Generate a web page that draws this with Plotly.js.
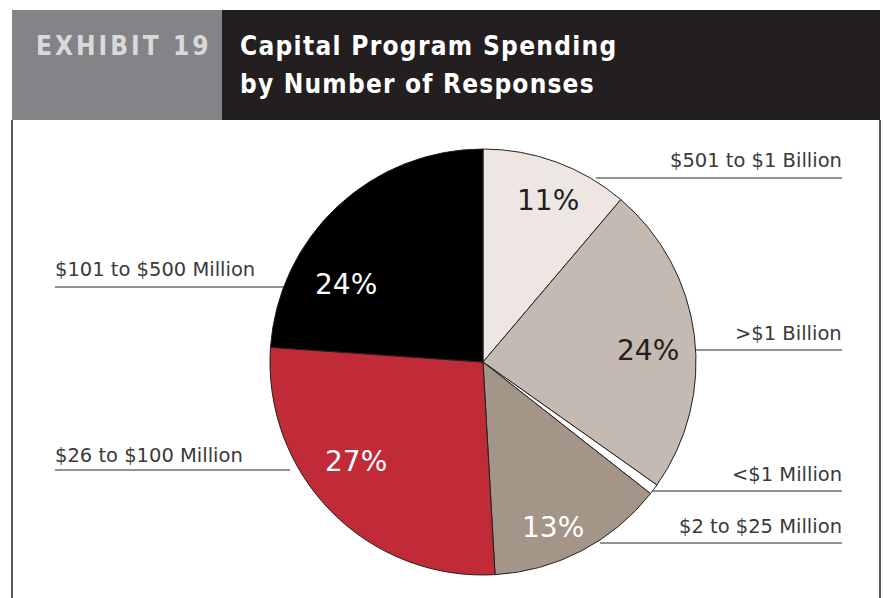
<!DOCTYPE html>
<html>
<head>
<meta charset="utf-8">
<script src="https://cdn.plot.ly/plotly-3.0.1.min.js"></script>
<style>html,body{margin:0;padding:0;background:#fff;}</style>
</head>
<body>
<div id="chart" style="width:887px;height:598px;"></div>
<script>
// Data (clockwise from 12 o'clock)
const categories = ["$501 to $1 Billion", ">$1 Billion", "<$1 Million", "$2 to $25 Million", "$26 to $100 Million", "$101 to $500 Million"];
const shares = [11.2, 23.6, 0.8, 13.5, 27.0, 23.9];
const pctLabels = ["11%", "24%", "", "13%", "27%", "24%"];
const sliceColors = ["#ede6e3", "#c4bab1", "#ffffff", "#a39689", "#c12a37", "#000000"];
const pctTextColors = ["#231f20", "#231f20", "#231f20", "#ffffff", "#ffffff", "#ffffff"];

const W = 887, H = 598;
const px = x => x / W;
const py = y => 1 - y / H;

// label placement (pixels)
const labelPos = [
  {x: 844, y: 160, anchor: "right", line: [596, 842, 178]},
  {x: 844, y: 333, anchor: "right", line: [694, 842, 350]},
  {x: 844, y: 474, anchor: "right", line: [650, 842, 491]},
  {x: 844, y: 526, anchor: "right", line: [600, 842, 543]},
  {x: 53, y: 455, anchor: "left", line: [55, 290, 470]},
  {x: 53, y: 269, anchor: "left", line: [55, 284, 287]}
];
const pctPos = [[548, 200], [648, 350], null, [553, 527], [356, 461], [346, 284]];

const annotations = [];
const shapes = [];
categories.forEach((c, i) => {
  const p = labelPos[i];
  annotations.push({
    xref: "paper", yref: "paper", x: px(p.x), y: py(p.y),
    xanchor: p.anchor, yanchor: "middle", showarrow: false,
    text: c, font: {family: "DejaVu Sans", size: 19.5, color: "#3a3a3a"}
  });
  shapes.push({
    type: "line", xref: "paper", yref: "paper", layer: "below",
    x0: px(p.line[0]), x1: px(p.line[1]), y0: py(p.line[2]), y1: py(p.line[2]),
    line: {color: "#6d6d6d", width: 1.5}
  });
  if (pctPos[i]) {
    annotations.push({
      xref: "paper", yref: "paper", x: px(pctPos[i][0]), y: py(pctPos[i][1]),
      xanchor: "center", yanchor: "middle", showarrow: false,
      text: pctLabels[i], font: {family: "DejaVu Sans", size: 28, color: pctTextColors[i]}
    });
  }
});

// header
shapes.push({type: "rect", xref: "paper", yref: "paper", x0: px(12), x1: px(222), y0: py(120), y1: py(10), fillcolor: "#838487", line: {width: 0}, layer: "below"});
shapes.push({type: "rect", xref: "paper", yref: "paper", x0: px(222), x1: px(880), y0: py(120), y1: py(10), fillcolor: "#231f20", line: {width: 0}, layer: "below"});
shapes.push({type: "line", xref: "paper", yref: "paper", x0: px(12), x1: px(12), y0: py(120), y1: 0, line: {color: "#231f20", width: 1.5}});
shapes.push({type: "line", xref: "paper", yref: "paper", x0: px(880), x1: px(880), y0: py(120), y1: 0, line: {color: "#231f20", width: 1.5}});

annotations.push({xref: "paper", yref: "paper", x: px(34), y: py(46), xanchor: "left", yanchor: "middle", showarrow: false,
  text: "<b><span style=\"letter-spacing:3px\">EXHIBIT 19</span></b>", font: {family: "DejaVu Sans Condensed", size: 26, color: "#d9d9da"}});
annotations.push({xref: "paper", yref: "paper", x: px(238), y: py(46), xanchor: "left", yanchor: "middle", showarrow: false,
  text: "<b><span style=\"letter-spacing:1.3px\">Capital Program Spending</span></b>", font: {family: "DejaVu Sans Condensed", size: 26, color: "#ffffff"}});
annotations.push({xref: "paper", yref: "paper", x: px(238), y: py(84), xanchor: "left", yanchor: "middle", showarrow: false,
  text: "<b><span style=\"letter-spacing:1.2px\">by Number of Responses</span></b>", font: {family: "DejaVu Sans Condensed", size: 26, color: "#ffffff"}});

const trace = {
  type: "pie",
  labels: categories,
  values: shares,
  sort: false,
  direction: "clockwise",
  rotation: 0,
  marker: {colors: sliceColors, line: {color: "#231f20", width: 1}},
  textinfo: "none",
  hoverinfo: "label+value",
  showlegend: false,
  domain: {x: [px(270), px(696)], y: [py(575), py(149)]}
};

Plotly.newPlot("chart", [trace], {
  width: W, height: H,
  margin: {l: 0, r: 0, t: 0, b: 0},
  paper_bgcolor: "#ffffff",
  showlegend: false,
  annotations: annotations,
  shapes: shapes
}, {displayModeBar: false, staticPlot: true});
</script>
</body>
</html>
